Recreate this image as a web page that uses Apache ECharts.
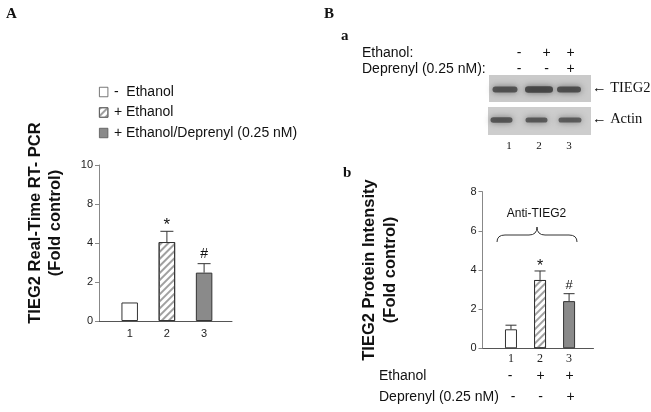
<!DOCTYPE html>
<html>
<head>
<meta charset="utf-8">
<script src="https://cdn.jsdelivr.net/npm/echarts@6/dist/echarts.min.js"></script>
<style>html,body{margin:0;padding:0;background:#fff}#c{width:651px;height:412px}</style>
</head>
<body>
<div id="c"></div>
<script>
// ---- data ----
const categories = [1, 2, 3];
const groupNames = ['-  Ethanol', '+ Ethanol', '+ Ethanol/Deprenyl (0.25 nM)'];
const rtpcrMean = [0.95, 4.05, 2.48];
const rtpcrErr = [0, 0.55, 0.46];
const proteinMean = [0.97, 3.49, 2.41];
const proteinErr = [0.21, 0.46, 0.38];
const sigMarks = ['', '*', '#'];
const yTickLabelsA = ['0', '2', '4', '8', '10'];
const yTickLabelsB = ['0', '2', '4', '6', '8'];
const ethanolSigns = ['-', '+', '+'];
const deprenylSigns = ['-', '-', '+'];
const tieg2Band = [0.78, 1.0, 0.86];
const actinBand = [0.85, 0.8, 0.75];

// ---- styles ----
const SANS = 'Arial, "Liberation Sans", sans-serif';
const SERIF = '"Times New Roman", "Liberation Serif", serif';
const hatch = { symbol: 'rect', symbolSize: 1, dashArrayX: [1, 0], dashArrayY: [1.1, 2.6], rotation: -Math.PI / 4, color: '#a0a0a0' };
const groupStyles = [
  { color: '#ffffff', borderColor: '#333', borderWidth: 1 },
  { color: '#ffffff', borderColor: '#333', borderWidth: 1, decal: hatch },
  { color: '#8a8a8a', borderColor: '#333', borderWidth: 1 }
];

// markStyle: per mark symbol -> [fontSize, gap above error cap]
function errRender(cap, markStyle) {
  return function (params, api) {
    const i = params.dataIndex;
    const x = api.value(0), v = api.value(1), e = api.value(2);
    const base = api.coord([x, v]);
    const top = api.coord([x, v + e]);
    const ch = [];
    if (e > 0) {
      ch.push({ type: 'line', shape: { x1: base[0], y1: base[1], x2: top[0], y2: top[1] }, style: { stroke: '#333', lineWidth: 1 } });
      ch.push({ type: 'line', shape: { x1: top[0] - cap, y1: top[1], x2: top[0] + cap, y2: top[1] }, style: { stroke: '#333', lineWidth: 1 } });
    }
    const m = sigMarks[i];
    if (m) {
      const ms = markStyle[m];
      ch.push({ type: 'text', style: { text: m, x: top[0], y: top[1] - ms[1], align: 'center', verticalAlign: 'middle', font: ms[0] + 'px ' + SANS, fill: '#111' } });
    }
    return { type: 'group', children: ch };
  };
}

const series = [];
categories.forEach(function (c, g) {
  series.push({
    type: 'bar', name: groupNames[g], xAxisIndex: 0, yAxisIndex: 0,
    barWidth: 16.5, barGap: '-100%', itemStyle: groupStyles[g],
    data: [[c, rtpcrMean[g]]], z: 2
  });
  series.push({
    type: 'bar', name: 'B' + g, xAxisIndex: 1, yAxisIndex: 1,
    barWidth: 12, barGap: '-100%', itemStyle: groupStyles[g],
    data: [[c, proteinMean[g]]], z: 2
  });
});
series.push({
  type: 'custom', xAxisIndex: 0, yAxisIndex: 0, z: 3,
  encode: { x: 0, y: 1 },
  renderItem: errRender(6.5, { '*': [17, 6], '#': [14, 10] }),
  data: categories.map(function (c, i) { return [c, rtpcrMean[i], rtpcrErr[i]]; })
});
series.push({
  type: 'custom', xAxisIndex: 1, yAxisIndex: 1, z: 3,
  encode: { x: 0, y: 1 },
  renderItem: errRender(5.5, { '*': [16, 4.5], '#': [13, 8] }),
  data: categories.map(function (c, i) { return [c, proteinMean[i], proteinErr[i]]; })
});

// ---- decorative graphics (titles, blot panel, annotations) ----
const graphic = [];
function txt(x, y, s, font, align, rot) {
  graphic.push({ type: 'text', x: x, y: y, rotation: rot || 0, style: { text: s, font: font, fill: '#111', align: align || 'left', verticalAlign: 'middle' } });
}
txt(6, 14, 'A', 'bold 15px ' + SERIF);
txt(324, 14, 'B', 'bold 15px ' + SERIF);
txt(341, 36, 'a', 'bold 15px ' + SERIF);
txt(343, 173, 'b', 'bold 15px ' + SERIF);
txt(35, 223, 'TIEG2 Real-Time RT- PCR', 'bold 16.5px ' + SANS, 'center', Math.PI / 2);
txt(55, 223, '(Fold control)', 'bold 16.5px ' + SANS, 'center', Math.PI / 2);
txt(369, 270, 'TIEG2 Protein Intensity', 'bold 16.5px ' + SANS, 'center', Math.PI / 2);
txt(390, 270, '(Fold control)', 'bold 16.5px ' + SANS, 'center', Math.PI / 2);

// blot header
txt(362, 53, 'Ethanol:', '14px ' + SANS);
txt(362, 69, 'Deprenyl (0.25 nM):', '14px ' + SANS);
const headX = [519, 546.5, 570.5];
headX.forEach(function (x, i) {
  txt(x, 53, ethanolSigns[i], '14px ' + SANS, 'center');
  txt(x, 69, deprenylSigns[i], '14px ' + SANS, 'center');
});
// blot strips
graphic.push({ type: 'rect', shape: { x: 489, y: 75, width: 102, height: 27 }, style: { fill: '#cacaca' } });
graphic.push({ type: 'rect', shape: { x: 488, y: 107, width: 103, height: 28 }, style: { fill: '#cdcdcd' } });
const tX = [505, 539, 569], tW = [12.5, 14, 12];
const aX = [501.5, 536.5, 570], aW = [11, 11, 11.5];
tX.forEach(function (x, i) {
  const h = 4 + 2.4 * tieg2Band[i];
  graphic.push({ type: 'rect', shape: { x: x - tW[i], y: 89.5 - h / 2, width: 2 * tW[i], height: h, r: h / 2 },
    style: { fill: '#3a3a3a', opacity: 0.45 + 0.4 * tieg2Band[i], shadowBlur: 6, shadowColor: '#555' } });
});
aX.forEach(function (x, i) {
  const h = 3.6 + 2 * actinBand[i];
  graphic.push({ type: 'rect', shape: { x: x - aW[i], y: 120 - h / 2, width: 2 * aW[i], height: h, r: h / 2 },
    style: { fill: '#3a3a3a', opacity: 0.4 + 0.4 * actinBand[i], shadowBlur: 6, shadowColor: '#555' } });
});
txt(592, 88.5, '\u2190 TIEG2', '14.5px ' + SERIF);
txt(592, 119.5, '\u2190 Actin', '14.5px ' + SERIF);
[509, 539, 569].forEach(function (x, i) { txt(x, 146, String(categories[i]), '11px ' + SERIF, 'center'); });

// panel b annotations
txt(536.5, 214, 'Anti-TIEG2', '12px ' + SANS, 'center');
const braceStyle = { stroke: '#333', lineWidth: 1, fill: 'none' };
graphic.push({ type: 'bezierCurve', shape: { x1: 497, y1: 242, cpx1: 497, cpy1: 235, x2: 505, y2: 235 }, style: braceStyle });
graphic.push({ type: 'line', shape: { x1: 505, y1: 235, x2: 529, y2: 235 }, style: braceStyle });
graphic.push({ type: 'bezierCurve', shape: { x1: 529, y1: 235, cpx1: 537, cpy1: 235, x2: 537, y2: 227 }, style: braceStyle });
graphic.push({ type: 'bezierCurve', shape: { x1: 537, y1: 227, cpx1: 537, cpy1: 235, x2: 545, y2: 235 }, style: braceStyle });
graphic.push({ type: 'line', shape: { x1: 545, y1: 235, x2: 569, y2: 235 }, style: braceStyle });
graphic.push({ type: 'bezierCurve', shape: { x1: 569, y1: 235, cpx1: 577, cpy1: 235, x2: 577, y2: 242 }, style: braceStyle });
txt(379, 376, 'Ethanol', '14px ' + SANS);
txt(379, 397, 'Deprenyl (0.25 nM)', '14px ' + SANS);
const footX1 = [510, 540.5, 569.5], footX2 = [513, 540.5, 570.5];
footX1.forEach(function (x, i) { txt(x, 376, ethanolSigns[i], '14px ' + SANS, 'center'); });
footX2.forEach(function (x, i) { txt(x, 397, deprenylSigns[i], '14px ' + SANS, 'center'); });

const chart = echarts.init(document.getElementById('c'), null, { renderer: 'canvas' });
chart.setOption({
  animation: false,
  backgroundColor: '#fff',
  legend: {
    data: groupNames, orient: 'vertical', left: 94, top: 80, selectedMode: false,
    itemWidth: 8.5, itemHeight: 9.5, itemGap: 6.5, icon: 'rect',
    itemStyle: { borderColor: '#555', borderWidth: 0.8 },
    textStyle: { fontSize: 14, fontFamily: SANS, color: '#111', padding: [0, 0, 0, 1] }
  },
  grid: [
    { left: 99, top: 165, width: 133, height: 156 },
    { left: 482.5, top: 191.7, width: 111, height: 156.6 }
  ],
  xAxis: [
    { type: 'value', gridIndex: 0, min: 0.175, max: 3.75, splitLine: { show: false },
      axisLine: { show: true, lineStyle: { color: '#555', width: 1 } }, axisTick: { show: false },
      axisLabel: { customValues: categories, margin: 7, fontSize: 11, fontFamily: SANS, color: '#222' } },
    { type: 'value', gridIndex: 1, min: 0.02, max: 3.84, splitLine: { show: false },
      axisLine: { show: true, lineStyle: { color: '#555', width: 1 } }, axisTick: { show: false },
      axisLabel: { customValues: categories, margin: 5, fontSize: 12, fontFamily: SERIF, color: '#222' } }
  ],
  yAxis: [
    { type: 'value', gridIndex: 0, min: 0, max: 8, interval: 2, splitLine: { show: false },
      axisLine: { show: true, lineStyle: { color: '#888' } },
      axisTick: { show: true, length: 4, lineStyle: { color: '#888' } },
      axisLabel: { margin: 6, fontSize: 11, fontFamily: SANS, color: '#222',
        formatter: function (v) { return yTickLabelsA[Math.round(v / 2)]; } } },
    { type: 'value', gridIndex: 1, min: 0, max: 8, interval: 2, splitLine: { show: false },
      axisLine: { show: true, lineStyle: { color: '#888' } },
      axisTick: { show: true, length: 4, lineStyle: { color: '#888' } },
      axisLabel: { margin: 6, fontSize: 11, fontFamily: SANS, color: '#222',
        formatter: function (v) { return yTickLabelsB[Math.round(v / 2)]; } } }
  ],
  series: series,
  graphic: graphic
});
</script>
</body>
</html>
